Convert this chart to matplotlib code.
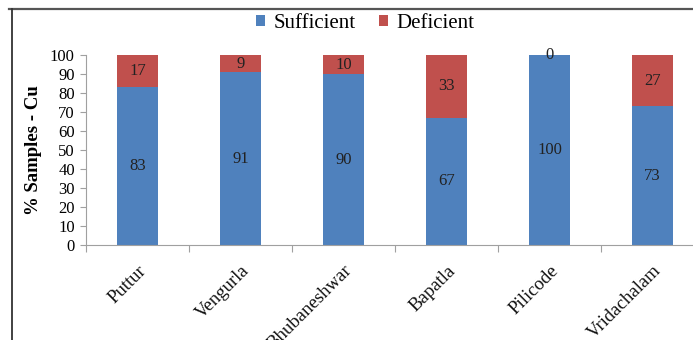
import matplotlib
matplotlib.use("Agg")
import matplotlib.pyplot as plt
from matplotlib.lines import Line2D
import numpy as np

# Copper sufficiency status by location
locations = ["Puttur", "Vengurla", "Bhubaneshwar", "Bapatla", "Pilicode", "Vridachalam"]
sufficient = [83, 91, 90, 67, 100, 73]
deficient = [17, 9, 10, 33, 0, 27]

blue = "#4F81BD"
red = "#C0504D"
font = "Liberation Serif"

fig = plt.figure(figsize=(6.93, 3.40), dpi=100)
ax = fig.add_axes([0.124, 0.279, 0.892, 0.559])

x = np.arange(len(locations))
w = 0.39
ax.bar(x, sufficient, w, color=blue, label="Sufficient", zorder=2)
ax.bar(x, deficient, w, bottom=sufficient, color=red, label="Deficient", zorder=2)

for xi, s, d in zip(x, sufficient, deficient):
    ax.text(xi, s / 2, f"{s}", ha="center", va="center", fontsize=12,
            family=font, color="#222222")
    ax.text(xi, s + d / 2, f"{d}", ha="center", va="center", fontsize=12,
            family=font, color="#222222")

ax.set_xlim(-0.5, len(locations) - 0.5)
ax.set_ylim(0, 100)
ax.set_yticks(range(0, 101, 10))
ax.set_yticklabels([str(v) for v in range(0, 101, 10)], family=font, fontsize=12)
ax.set_xticks(np.arange(len(locations) + 1) - 0.5)
ax.set_xticklabels([])
ax.tick_params(axis="x", length=5, color="#A0A0A0", width=0.8)
ax.tick_params(axis="y", length=4, color="#A0A0A0", width=0.8, pad=4)

for xi, name in zip(x, locations):
    ax.text(xi + 0.0, -9, name, rotation=45, ha="right", va="top",
            rotation_mode="anchor", fontsize=13.5, family=font, color="#111111")

for side in ("top", "right"):
    ax.spines[side].set_visible(False)
for side in ("left", "bottom"):
    ax.spines[side].set_color("#A0A0A0")
    ax.spines[side].set_linewidth(0.8)

ax.set_ylabel("% Samples - Cu", family=font, fontsize=13.5, fontweight="bold", labelpad=6)

leg = fig.legend(loc="center", bbox_to_anchor=(0.527, 0.93), ncol=2, frameon=False,
                 prop={"family": font, "size": 15}, handlelength=0.45, handleheight=0.45,
                 handletextpad=0.4, columnspacing=1.1)

# outer frame
fig.add_artist(Line2D([9 / 693, 1.0], [1 - 9 / 340, 1 - 9 / 340], transform=fig.transFigure,
                      color="#555555", linewidth=1.6))
fig.add_artist(Line2D([12 / 693, 12 / 693], [0.0, 1 - 9 / 340], transform=fig.transFigure,
                      color="#333333", linewidth=1.3))

fig.savefig("out.png", dpi=100)
